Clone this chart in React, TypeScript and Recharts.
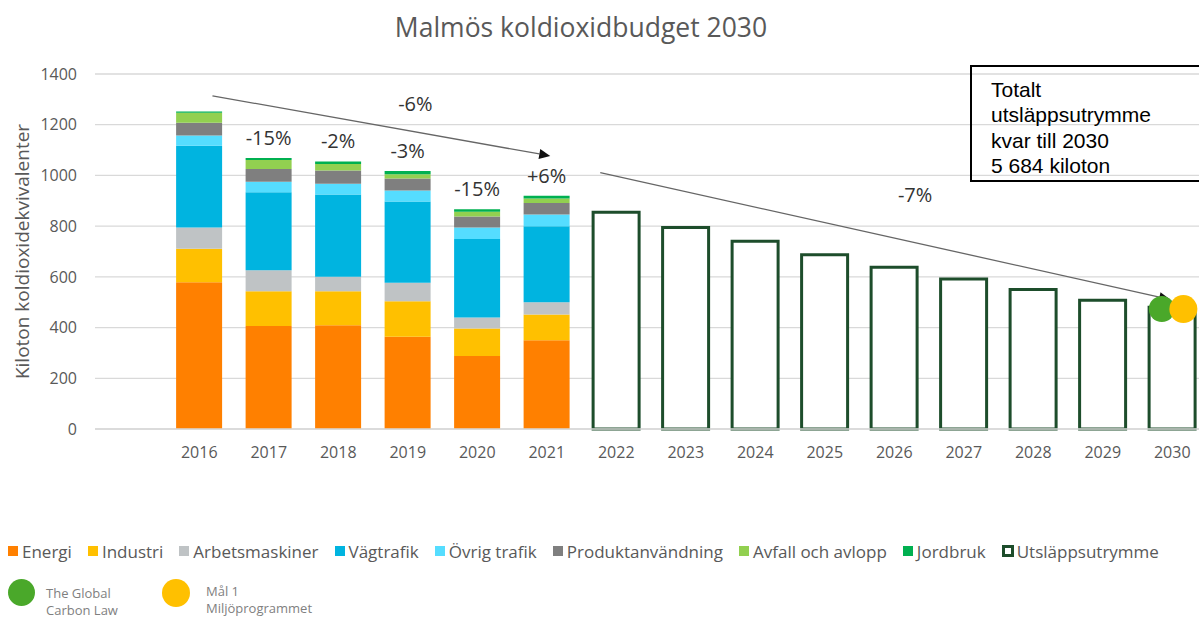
import React from "react";
import {
  ComposedChart,
  Bar,
  XAxis,
  YAxis,
  CartesianGrid,
  LabelList,
  ReferenceLine,
  ReferenceDot,
  Scatter,
} from "recharts";

// historical emissions, kiloton CO2e
const histYears = ["2016", "2017", "2018", "2019", "2020", "2021"];
const energi = [579, 406, 409, 364, 288, 350];
const industri = [132, 137, 134, 140, 108, 102];
const arbetsmaskiner = [84, 83, 57, 73, 44, 48];
const vagtrafik = [322, 308, 325, 320, 309, 300];
const ovrigTrafik = [40, 41, 42, 44, 46, 46];
const produktanvandning = [51, 50, 52, 47, 43, 45];
const avfall = [39, 36, 26, 17, 19, 18];
const jordbruk = [5, 8, 10, 12, 10, 11];
const yearChange = ["", "-15%", "-2%", "-3%", "-15%", "+6%"];

// remaining budget
const budgetYears = ["2022", "2023", "2024", "2025", "2026", "2027", "2028", "2029", "2030"];
const utrymme = [855, 795, 740, 687, 638, 592, 550, 508, 480];

// 2030 targets
const carbonLaw = [{ x: 2029.85, y: 473 }];
const mal1 = [{ x: 2030.16, y: 473 }];

// trend arrows (x in years)
const trend2016 = [{ x: 2016.19, y: 1314 }, { x: 2021.05, y: 1077 }];
const trend2022 = [{ x: 2021.77, y: 1011 }, { x: 2029.97, y: 511 }];
const trendLabels = [
  { x: 2019.11, y: 1282, text: "-6%" },
  { x: 2026.3, y: 924, text: "-7%" },
];

const yTicks = [0, 200, 400, 600, 800, 1000, 1200, 1400];

const sectors = [
  { key: "energi", name: "Energi", color: "#ff8000", values: energi },
  { key: "industri", name: "Industri", color: "#ffc000", values: industri },
  { key: "arbets", name: "Arbetsmaskiner", color: "#bfc3c5", values: arbetsmaskiner },
  { key: "vag", name: "Vägtrafik", color: "#00b4e0", values: vagtrafik },
  { key: "ovrig", name: "Övrig trafik", color: "#55ddff", values: ovrigTrafik },
  { key: "produkt", name: "Produktanvändning", color: "#7f7f7f", values: produktanvandning },
  { key: "avfall", name: "Avfall och avlopp", color: "#92d050", values: avfall },
  { key: "jord", name: "Jordbruk", color: "#00b050", values: jordbruk },
];

const OUTLINE = "#1d4d2b";
const TEXT = "#595959";
const FONT = "'Open Sans', sans-serif";

const emptyRow = (year: string) => {
  const row: any = { year, utrymme: 0, change: "" };
  sectors.forEach((s) => (row[s.key] = 0));
  return row;
};

const data = [
  emptyRow(""),
  ...histYears.map((y, i) => {
    const row = emptyRow(y);
    sectors.forEach((s) => (row[s.key] = s.values[i]));
    row.change = yearChange[i];
    return row;
  }),
  ...budgetYears.map((y, i) => {
    const row = emptyRow(y);
    row.utrymme = utrymme[i];
    return row;
  }),
];

const Arrow = (props: any) => {
  const { x1, y1, x2, y2 } = props;
  const a = Math.atan2(y2 - y1, x2 - x1);
  const len = 11;
  const w = 5;
  const bx = x2 - len * Math.cos(a);
  const by = y2 - len * Math.sin(a);
  const pts = `${x2},${y2} ${bx + w * Math.sin(a)},${by - w * Math.cos(a)} ${bx - w * Math.sin(a)},${by + w * Math.cos(a)}`;
  return (
    <g>
      <line x1={x1} y1={y1} x2={bx} y2={by} stroke="#666" strokeWidth={1.3} />
      <polygon points={pts} fill="#111" />
    </g>
  );
};

const App = () => {
  return (
    <div
      style={{
        position: "fixed",
        left: 0,
        top: 0,
        width: 1199,
        height: 619,
        overflow: "hidden",
        background: "#fff",
        fontFamily: FONT,
      }}
    >
      <div
        style={{
          position: "absolute",
          left: 0,
          width: 1162,
          top: 9,
          textAlign: "center",
          fontSize: 26.5,
          color: TEXT,
          lineHeight: "36px",
        }}
      >
        Malmös koldioxidbudget 2030
      </div>

      <div style={{ position: "absolute", left: 0, top: 0 }}>
        <ComposedChart
          width={1215}
          height={469}
          data={data}
          margin={{ top: 74, right: 8, left: 0, bottom: 0 }}
          barCategoryGap="16.7%"
        >
          <CartesianGrid vertical={false} stroke="#d9d9d9" strokeWidth={1.3} />
          <XAxis
            dataKey="year"
            height={40}
            tickLine={false}
            axisLine={{ stroke: "#d9d9d9", strokeWidth: 1.3 }}
            tickSize={0}
            tickMargin={18}
            interval={0}
            tick={{ fill: TEXT, fontSize: 16, fontFamily: FONT }}
          />
          <XAxis
            xAxisId="yr"
            type="number"
            dataKey="x"
            domain={[2014.5, 2030.5]}
            allowDataOverflow
            hide
          />
          <YAxis
            width={95}
            domain={[0, 1400]}
            ticks={yTicks}
            axisLine={false}
            tickLine={false}
            tickSize={0}
            tickMargin={18}
            tick={{ fill: TEXT, fontSize: 16, fontFamily: FONT }}
            label={{
              value: "Kiloton koldioxidekvivalenter",
              angle: -90,
              position: "center",
              dx: -25,
              fill: TEXT,
              fontSize: 19,
              fontFamily: FONT,
            }}
          />
          {sectors.map((s, i) => (
            <Bar
              key={s.key}
              dataKey={s.key}
              name={s.name}
              stackId="a"
              fill={s.color}
              isAnimationActive={false}
            >
              {i === sectors.length - 1 && (
                <LabelList
                  dataKey="change"
                  position="top"
                  offset={13}
                  fill="#333"
                  fontSize={20}
                  fontFamily={FONT}
                />
              )}
            </Bar>
          ))}
          <Bar
            dataKey="utrymme"
            name="Utsläppsutrymme"
            stackId="a"
            fill="#fff"
            stroke={OUTLINE}
            strokeWidth={3}
            isAnimationActive={false}
          />
          <Scatter
            xAxisId="yr"
            data={carbonLaw}
            dataKey="y"
            isAnimationActive={false}
            shape={(p: any) => <circle cx={p.cx} cy={p.cy} r={13} fill="#4aa82a" />}
          />
          <ReferenceLine
            xAxisId="yr"
            segment={trend2016}
            ifOverflow="visible"
            shape={Arrow}
          />
          <ReferenceLine
            xAxisId="yr"
            segment={trend2022}
            ifOverflow="visible"
            shape={Arrow}
          />
          <Scatter
            xAxisId="yr"
            data={mal1}
            dataKey="y"
            isAnimationActive={false}
            shape={(p: any) => <circle cx={p.cx} cy={p.cy} r={14} fill="#ffc000" />}
          />
          {trendLabels.map((t) => (
            <ReferenceDot
              key={t.text}
              xAxisId="yr"
              x={t.x}
              y={t.y}
              r={0}
              fill="none"
              stroke="none"
              ifOverflow="visible"
              label={{ value: t.text, position: "center", fill: "#333", fontSize: 20, fontFamily: FONT }}
            />
          ))}
        </ComposedChart>
      </div>

      <div
        style={{
          position: "absolute",
          left: 970,
          top: 65,
          width: 260,
          height: 117,
          boxSizing: "border-box",
          border: "2px solid #000",
          paddingLeft: 19,
          paddingTop: 10,
          fontFamily: "'Liberation Sans', Arial, sans-serif",
          fontSize: 21,
          lineHeight: "25.3px",
          color: "#000",
        }}
      >
        Totalt
        <br />
        utsläppsutrymme
        <br />
        kvar till 2030
        <br />5 684 kiloton
      </div>

      <div
        style={{
          position: "absolute",
          left: 8,
          top: 540,
          height: 22,
          display: "flex",
          alignItems: "center",
          gap: 16,
          fontSize: 17,
          color: TEXT,
          whiteSpace: "nowrap",
        }}
      >
        {sectors.map((s) => (
          <div key={s.key} style={{ display: "flex", alignItems: "center", gap: 4 }}>
            <span style={{ width: 10, height: 10, background: s.color, display: "inline-block" }} />
            <span>{s.name}</span>
          </div>
        ))}
        <div style={{ display: "flex", alignItems: "center", gap: 3 }}>
          <span
            style={{
              width: 12,
              height: 12,
              boxSizing: "border-box",
              border: `3px solid ${OUTLINE}`,
              background: "#fff",
              display: "inline-block",
            }}
          />
          <span>Utsläppsutrymme</span>
        </div>
      </div>

      <div
        style={{
          position: "absolute",
          left: 8,
          top: 579,
          display: "flex",
          fontSize: 13,
          color: "#7f7f7f",
          lineHeight: "17px",
        }}
      >
        <div style={{ display: "flex", alignItems: "flex-start", width: 154 }}>
          <span style={{ width: 27, height: 27, borderRadius: "50%", background: "#4aa82a", marginRight: 11 }} />
          <span style={{ marginTop: 6 }}>
            The Global
            <br />
            Carbon Law
          </span>
        </div>
        <div style={{ display: "flex", alignItems: "flex-start" }}>
          <span style={{ width: 28, height: 28, borderRadius: "50%", background: "#ffc000", marginRight: 16 }} />
          <span style={{ marginTop: 4 }}>
            Mål 1
            <br />
            Miljöprogrammet
          </span>
        </div>
      </div>
    </div>
  );
};

export default App;
